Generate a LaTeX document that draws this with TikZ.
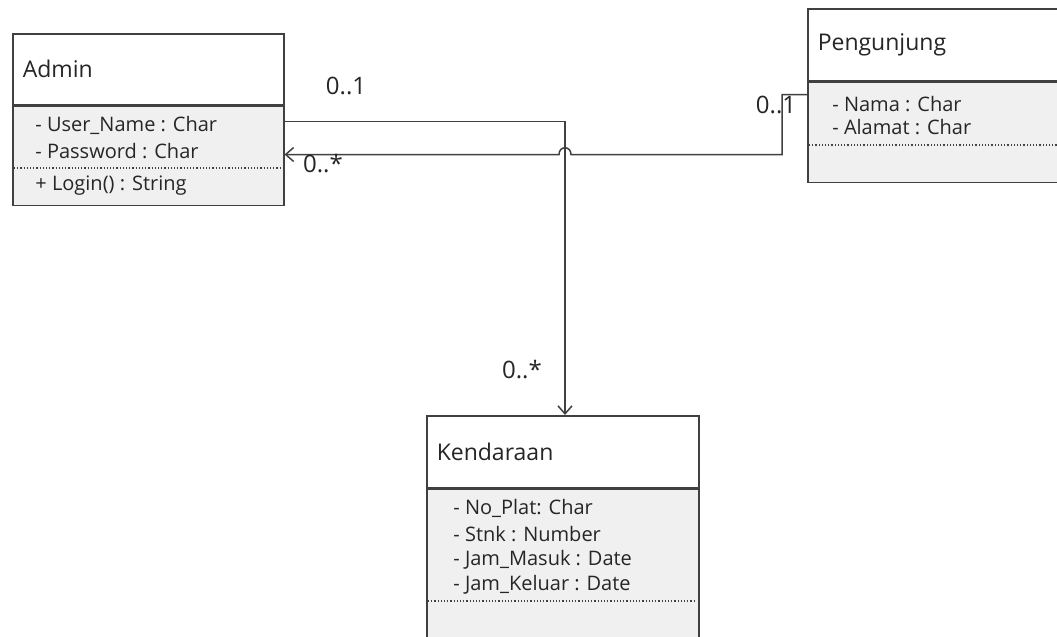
\documentclass[tikz,border=0pt]{standalone}
\usepackage{fontspec}
\setmainfont{Open Sans}
\usetikzlibrary{arrows.meta, positioning, calc}
\definecolor{umlLine}{HTML}{404040}
\definecolor{umlFill}{HTML}{F0F0F0}
\definecolor{umlText}{HTML}{262626}

\begin{document}
\begin{tikzpicture}[
    x=0.5pt, y=-0.5pt,
    every node/.style={text=umlText},
    classhead/.style={draw=umlLine, line width=0.75pt, fill=white, anchor=north west,
      minimum height=35.5pt, inner xsep=5pt, align=left, font=\fontsize{11.5}{14}\selectfont},
    classbody/.style={draw=umlLine, line width=0.75pt, fill=umlFill, below=0pt of #1},
    attr/.style={anchor=west, inner sep=0pt, font=\fontsize{10}{12}\selectfont},
    mult/.style={font=\fontsize{12}{14}\selectfont},
    sepline/.style={umlLine, densely dotted, line width=0.6pt},
    assoc/.style={umlLine, line width=0.75pt, -{Straight Barb[length=4pt, width=7pt]}}
  ]
  \path[use as bounding box, fill=white] (0,0) rectangle (1057,637);

  % ── Admin ───────────────────────────────────────────────────────────────
  \node[classhead, text width=125.5pt] (adminhead) at (12,33) {Admin};
  \node[classbody=adminhead, minimum width=135.5pt, minimum height=49.5pt] (adminbody) {};
  \node[attr] (adminuser) at (35,125) {- User\_Name : Char};
  \node[attr] (adminpass) at (35,151) {- Password : Char};
  \draw[sepline] (14,168) -- (281,168);
  \node[attr] (adminlogin) at (35,186) {+ Login() : String};

  % ── Pengunjung (runs off the right edge) ────────────────────────────────
  \node[classhead, text width=140pt, minimum height=36pt] (penghead) at (807,8) {Pengunjung};
  \node[classbody=penghead, minimum width=150pt, minimum height=50pt] (pengbody) {};
  \node[attr] (pengnama) at (832,104) {- Nama : Char};
  \node[attr] (pengalamat) at (832,127) {- Alamat : Char};
  \draw[sepline] (809,145) -- (1057,145);

  % ── Kendaraan (runs off the bottom edge) ────────────────────────────────
  \node[classhead, text width=126pt, minimum height=36pt] (kendhead) at (426,415) {Kendaraan};
  \node[classbody=kendhead, minimum width=136pt, minimum height=80pt] (kendbody) {};
  \node[attr] (kendplat) at (453,508) {- No\_Plat: Char};
  \node[attr] (kendstnk) at (453,534) {- Stnk : Number};
  \node[attr] (kendmasuk) at (453,560) {- Jam\_Masuk : Date};
  \node[attr] (kendkeluar) at (453,585) {- Jam\_Keluar : Date};
  \draw[sepline] (428,601) -- (696,601);

  % ── Associations ────────────────────────────────────────────────────────
  \coordinate (adminout) at ($(adminbody.north east)+(0,16)$);
  \coordinate (adminin) at ($(adminbody.north east)+(0,49)$);
  \coordinate (pengout) at ($(pengbody.north west)+(0,13)$);
  \coordinate (kendin) at ($(kendhead.north west)+(139,0)$);

  \draw[assoc] (adminout) -| (kendin);
  % line hops over the vertical one
  \draw[assoc] (pengout) -- ++(-25,0) |- ($(kendin |- adminin)+(6,0)$)
    .. controls +(0,-9) and +(0,-9) .. ++(-12,0) -- (adminin);

  \node[mult] (multadmin1) at (346,86) {0..1};
  \node[mult] (multadmin2) at (323,164) {0..*};
  \node[mult] (multpeng) at (776,105) {0..1};
  \node[mult] (multkend) at (522,370) {0..*};
\end{tikzpicture}
\end{document}
